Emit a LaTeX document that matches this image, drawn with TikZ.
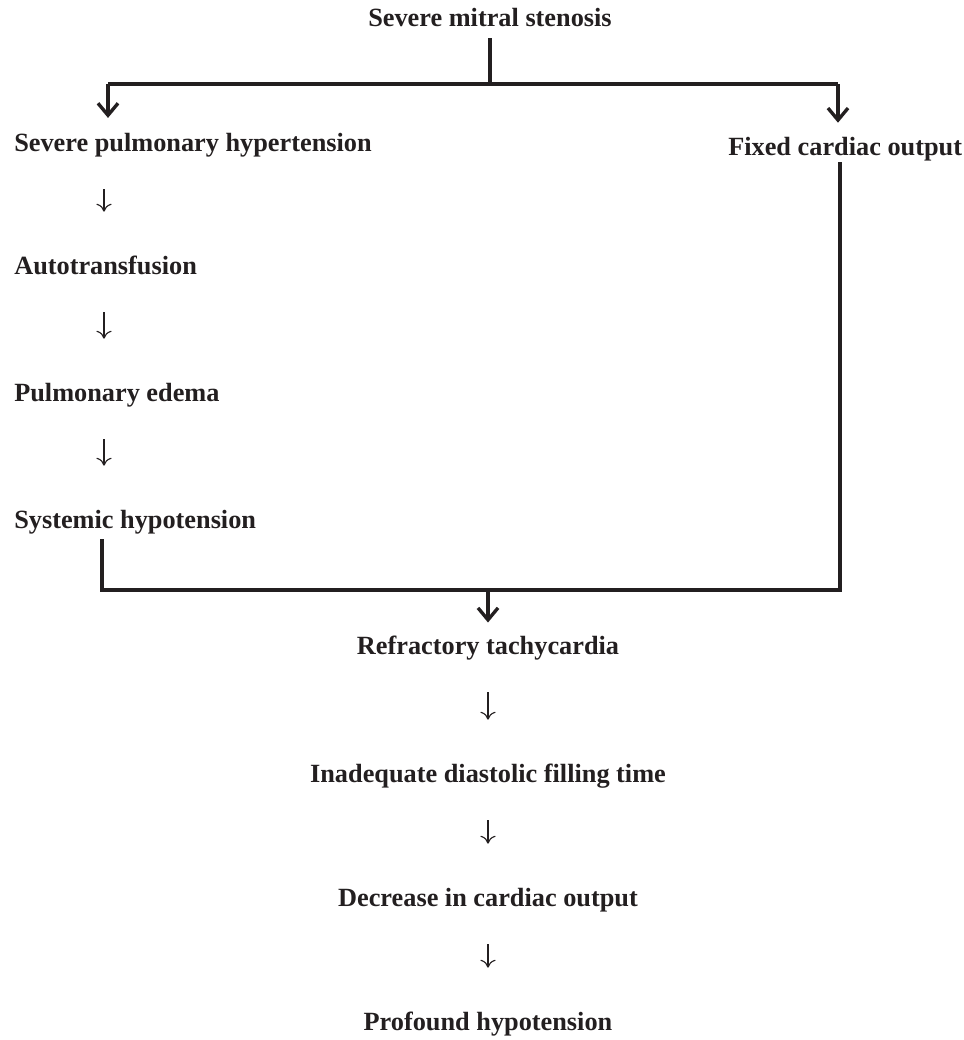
\documentclass[tikz,border=0pt]{standalone}
\usepackage{fontspec}
\setmainfont{Liberation Serif}
\usetikzlibrary{arrows.meta,calc}
\definecolor{ink}{HTML}{231F20}
\tikzset{
  lbl/.style={font=\fontsize{18.7}{22}\selectfont\bfseries,text=ink,inner sep=0pt,text height=0.45cm,text depth=0.15cm,anchor=base},
  lbll/.style={lbl,anchor=base west},
  bar/.style={ink,line width=2.4pt,line join=miter},
  barr/.style={bar,-{Straight Barb[length=0.3cm,width=0.5cm]}},
  dn/.style={ink,line width=0.8pt,-{To[length=0.2cm,width=0.38cm]},shorten <=0.8cm,shorten >=1.1cm},
}
\begin{document}
\begin{tikzpicture}[x=0.025cm,y=-0.025cm]
  \useasboundingbox (0,0) rectangle (964,1040);
  \node[lbl] (ms) at (490,26) {Severe mitral stenosis};
  \node[lbll] (sph) at (14,151) {Severe pulmonary hypertension};
  \node[lbll] (fco) at (728,155) {Fixed cardiac output};
  \node[lbll] (atf) at (14,274) {Autotransfusion};
  \node[lbll] (pe) at (14,401) {Pulmonary edema};
  \node[lbll] (sh) at (14,528) {Systemic hypotension};
  \node[lbl] (rt) at (488,654) {Refractory tachycardia};
  \node[lbl] (idf) at (488,782) {Inadequate diastolic filling time};
  \node[lbl] (dco) at (488,906) {Decrease in cardiac output};
  \node[lbl] (ph) at (488,1030) {Profound hypotension};
  \coordinate (bl) at (108,84);
  \coordinate (br) at (838,84);
  \coordinate (cl) at (102,590);
  \coordinate (cr) at (840,590);
  \coordinate (lc) at (104,0);
  \draw[bar,shorten <=0.15cm] (ms.south) -- (ms.south |- bl);
  \draw[bar] (bl) -- (br);
  \draw[barr,shorten >=0.37cm] (bl) -- (bl |- sph.north);
  \draw[barr,shorten >=0.35cm] (br) -- (br |- fco.north);
  \draw[bar,shorten <=0.03cm,shorten >=0.125cm] (cr |- fco.south) -- (cr) -- (cl) -- (cl |- sh.south);
  \draw[barr,shorten >=0.33cm] (rt.north |- cl) -- (rt.north);
  \foreach \a/\b in {sph/atf,atf/pe,pe/sh}
    \draw[dn] (lc |- \a.south) -- (lc |- \b.north);
  \foreach \a/\b in {rt/idf,idf/dco,dco/ph}
    \draw[dn] (\a.south) -- (\b.north);
\end{tikzpicture}
\end{document}
